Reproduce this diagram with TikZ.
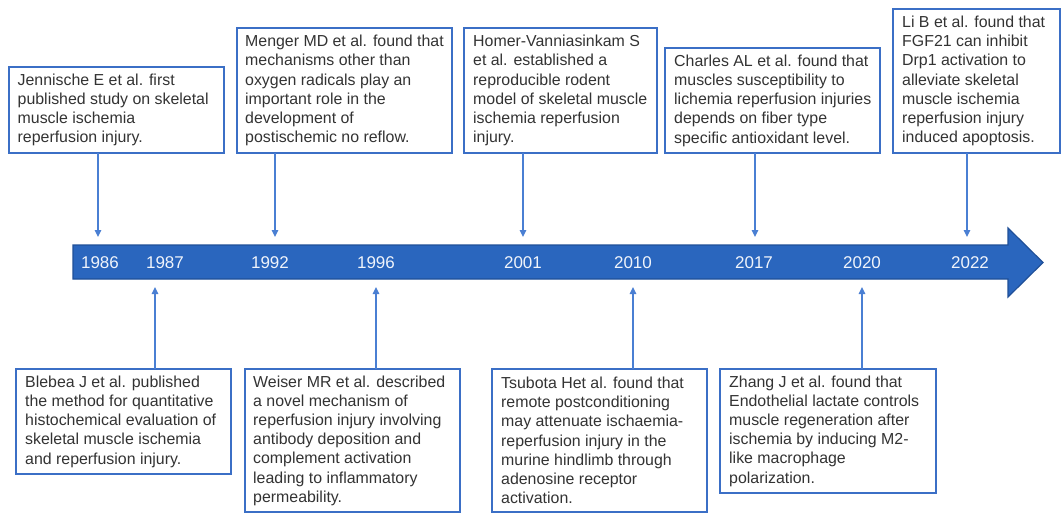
\documentclass[tikz,border=0pt]{standalone}
\usepackage{fontspec}
\setmainfont{Liberation Sans}
\usetikzlibrary{arrows.meta}
\definecolor{boxblue}{HTML}{3B6FC6}
\definecolor{linkblue}{HTML}{4A7FD3}
\definecolor{barblue}{HTML}{2A66BE}
\definecolor{bardark}{HTML}{1F4F98}
\definecolor{txt}{HTML}{333333}
\definecolor{yeartxt}{HTML}{F0F4FB}
\begin{document}
\begin{tikzpicture}[x=1pt,y=-1pt,
  evbox/.style={draw=boxblue, line width=2.2pt, fill=white, inner sep=0pt, outer sep=0pt},
  evtext/.style={anchor=west, align=left, text=txt, inner sep=0pt, font=\fontsize{15.9}{19.2}\selectfont},
  yearlbl/.style={text=yeartxt, font=\fontsize{17}{19}\selectfont, inner sep=0pt},
  conn/.style={draw=linkblue, line width=1.3pt, -{Triangle[length=7pt,width=6.5pt]}}]
\path[fill=white] (0,0) rectangle (1061,512);
\useasboundingbox (0,0) rectangle (1061,512);

% timeline bar
\path[fill=barblue, draw=bardark, line width=1.2pt]
  (73,245) -- (1008,245) -- (1008,228) -- (1043,262.5) -- (1008,297) -- (1008,279) -- (73,279) -- cycle;

% years
\node[yearlbl] (y1986) at (100,263) {1986};
\node[yearlbl] (y1987) at (165,263) {1987};
\node[yearlbl] (y1992) at (270,263) {1992};
\node[yearlbl] (y1996) at (376,263) {1996};
\node[yearlbl] (y2001) at (523,263) {2001};
\node[yearlbl] (y2010) at (633,263) {2010};
\node[yearlbl] (y2017) at (754,263) {2017};
\node[yearlbl] (y2020) at (862,263) {2020};
\node[yearlbl] (y2022) at (970,263) {2022};

% arrow end points
\coordinate (a1) at (98,237);
\coordinate (a2) at (275,237);
\coordinate (a3) at (523,237);
\coordinate (a4) at (755,237);
\coordinate (a5) at (967,237);
\coordinate (u1) at (155,287);
\coordinate (u2) at (376,287);
\coordinate (u3) at (633,287);
\coordinate (u4) at (862,287);

% top boxes
\node[evbox, minimum width=215pt, minimum height=86pt] (b1) at (116.5,110) {};
\node[evtext] (t1) at ([xshift=8.5pt]b1.west) {Jennische E et al. first\\published study on skeletal\\muscle ischemia\\reperfusion injury.};
\node[evbox, minimum width=215pt, minimum height=125pt] (b2) at (344.5,90.5) {};
\node[evtext] (t2) at ([xshift=8pt]b2.west) {Menger MD et al. found that\\mechanisms other than\\oxygen radicals play an\\important role in the\\development of\\postischemic no reflow.};
\node[evbox, minimum width=193pt, minimum height=125pt] (b3) at (560.5,90.5) {};
\node[evtext] (t3) at ([xshift=9pt]b3.west) {Homer-Vanniasinkam S\\et al. established a\\reproducible rodent\\model of skeletal muscle\\ischemia reperfusion\\injury.};
\node[evbox, minimum width=215pt, minimum height=105pt] (b4) at (772.5,100.5) {};
\node[evtext] (t4) at ([xshift=9pt]b4.west) {Charles AL et al. found that\\muscles susceptibility to\\lichemia reperfusion injuries\\depends on fiber type\\specific antioxidant level.};
\node[evbox, minimum width=167pt, minimum height=144pt] (b5) at (976.5,81) {};
\node[evtext] (t5) at ([xshift=9pt]b5.west) {Li B et al. found that\\FGF21 can inhibit\\Drp1 activation to\\alleviate skeletal\\muscle ischemia\\reperfusion injury\\induced apoptosis.};

% bottom boxes
\node[evbox, minimum width=215pt, minimum height=105pt] (c1) at (123.5,421.5) {};
\node[evtext] (s1) at ([xshift=9pt]c1.west) {Blebea J et al. published\\the method for quantitative\\histochemical evaluation of\\skeletal muscle ischemia\\and reperfusion injury.};
\node[evbox, minimum width=215pt, minimum height=143pt] (c2) at (352.5,440.5) {};
\node[evtext] (s2) at ([xshift=8pt]c2.west) {Weiser MR et al. described\\a novel mechanism of\\reperfusion injury involving\\antibody deposition and\\complement activation\\leading to inflammatory\\permeability.};
\node[evbox, minimum width=215pt, minimum height=143pt] (c3) at (599.5,440.5) {};
\node[evtext] (s3) at ([xshift=9pt]c3.west) {Tsubota Het al. found that\\remote postconditioning\\may attenuate ischaemia-\\reperfusion injury in the\\murine hindlimb through\\adenosine receptor\\activation.};
\node[evbox, minimum width=216pt, minimum height=124pt] (c4) at (828,431) {};
\node[evtext] (s4) at ([xshift=9pt]c4.west) {Zhang J et al. found that\\Endothelial lactate controls\\muscle regeneration after\\ischemia by inducing M2-\\like macrophage\\polarization.};

% connectors
\draw[conn] (b1.south -| a1) -- (a1);
\draw[conn] (b2.south -| a2) -- (a2);
\draw[conn] (b3.south -| a3) -- (a3);
\draw[conn] (b4.south -| a4) -- (a4);
\draw[conn] (b5.south -| a5) -- (a5);
\draw[conn] (c1.north -| u1) -- (u1);
\draw[conn] (c2.north -| u2) -- (u2);
\draw[conn] (c3.north -| u3) -- (u3);
\draw[conn] (c4.north -| u4) -- (u4);
\end{tikzpicture}
\end{document}
